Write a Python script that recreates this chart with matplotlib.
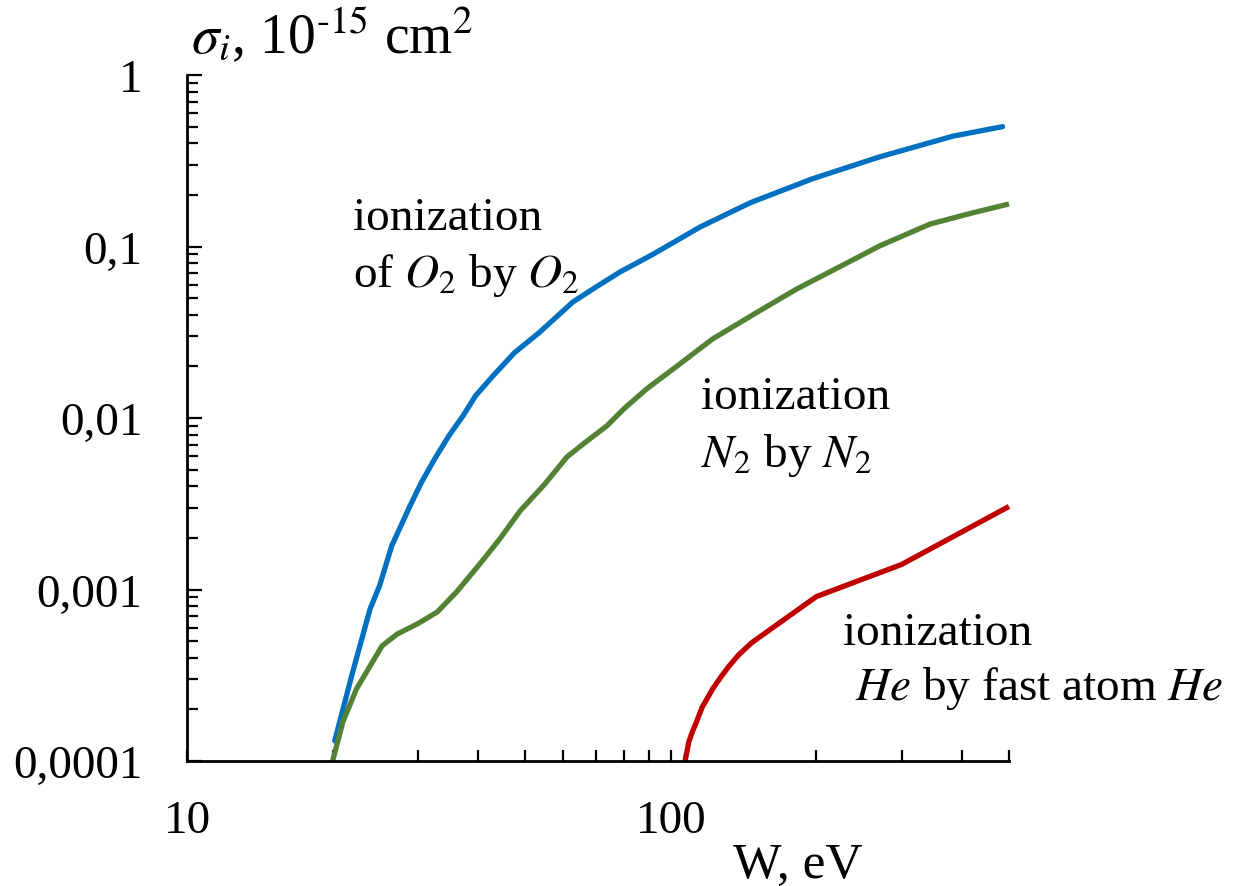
import matplotlib
matplotlib.use("Agg")
import matplotlib.pyplot as plt
from matplotlib.ticker import NullFormatter

plt.rcParams['font.family'] = ['Liberation Serif', 'DejaVu Serif']
plt.rcParams['mathtext.fontset'] = 'stix'

# O2 by O2
w_o2 = [20.2, 22.0, 23.9, 25.0, 26.5, 28.9, 30.5, 32.5, 34.8, 37.2, 39.5, 42.9, 47.5,
        53.6, 62.7, 70.0, 78.5, 91.8, 115, 146, 196, 270, 383, 485]
s_o2 = [1.31e-4, 3.3e-4, 7.7e-4, 1.05e-3, 1.8e-3, 3.07e-3, 4.2e-3, 5.77e-3, 7.9e-3,
        0.0103, 0.0135, 0.0176, 0.024, 0.0317, 0.0474, 0.058, 0.071, 0.090, 0.130,
        0.18, 0.248, 0.333, 0.44, 0.50]

# N2 by N2
w_n2 = [20.0, 21.0, 22.4, 23.9, 25.3, 27.2, 29.9, 32.9, 36.1, 40.3, 44.3, 48.8,
        54.9, 61.0, 66.5, 73.7, 80.5, 89.2, 104, 122, 150, 182, 225, 270, 343, 420, 500]
s_n2 = [1.0e-4, 1.69e-4, 2.63e-4, 3.58e-4, 4.69e-4, 5.5e-4, 6.29e-4, 7.39e-4, 9.7e-4,
        1.41e-3, 1.97e-3, 2.87e-3, 4.12e-3, 5.93e-3, 7.2e-3, 8.98e-3, 0.0115, 0.0148,
        0.0205, 0.0289, 0.041, 0.0565, 0.077, 0.1007, 0.135, 0.157, 0.177]

# He by fast He
w_he = [107, 109, 111, 113, 116, 122, 127, 132, 138, 147, 200, 300, 500]
s_he = [1.0e-4, 1.3e-4, 1.5e-4, 1.69e-4, 2.05e-4, 2.63e-4, 3.1e-4, 3.58e-4, 4.15e-4,
        4.9e-4, 9.1e-4, 1.4e-3, 3.05e-3]

yt = [1e-4, 1e-3, 1e-2, 1e-1, 1]
yt_labels = ['0,0001', '0,001', '0,01', '0,1', '1']
xt = [10, 100]
xt_labels = ['10', '100']

fig = plt.figure(figsize=(12.35, 8.87), dpi=100)
ax = fig.add_axes([187/1235, 1-762/887, (1009-187)/1235, (762-76)/887])

lw = 3.8
ax.plot(w_o2, s_o2, color='#0070C0', lw=lw, solid_capstyle='round',
        solid_joinstyle='round', clip_on=False)
ax.plot(w_n2, s_n2, color='#548235', lw=lw, solid_capstyle='butt',
        solid_joinstyle='round', clip_on=False)
ax.plot(w_he, s_he, color='#C00000', lw=lw, solid_capstyle='butt',
        solid_joinstyle='round', clip_on=False)

ax.set_xscale('log')
ax.set_yscale('log')
ax.set_xlim(10, 500)
ax.set_ylim(1e-4, 1)

ax.spines['top'].set_visible(False)
ax.spines['right'].set_visible(False)
ax.spines['left'].set_linewidth(2)
ax.spines['bottom'].set_linewidth(2)

ax.set_yticks(yt, yt_labels)
ax.set_xticks(xt, xt_labels)
ax.xaxis.set_minor_formatter(NullFormatter())
ax.yaxis.set_minor_formatter(NullFormatter())
ax.tick_params(axis='y', which='major', direction='in', length=11, width=1.6,
               pad=32, labelsize=34)
ax.tick_params(axis='y', which='minor', direction='in', length=8, width=1.6)
ax.tick_params(axis='x', which='major', direction='in', length=8, width=1.6,
               pad=28, labelsize=34)
ax.tick_params(axis='x', which='minor', direction='in', length=8, width=1.6)

fig.text(191/1235, 1-53/887, r'$\sigma_i$, 10$^{\text{-15}}$ cm$^2$', fontsize=40,
         va='baseline', ha='left')
fig.text(733/1235, 1-878/887, 'W, eV', fontsize=37, va='baseline', ha='left')

fs = 34
fig.text(353/1235, 1-230/887, 'ionization', fontsize=fs, va='baseline')
fig.text(353/1235, 1-287/887, r'of $O_2$ by $O_2$', fontsize=fs, va='baseline')
fig.text(701/1235, 1-409/887, 'ionization', fontsize=fs, va='baseline')
fig.text(701/1235, 1-467/887, r'$N_2$ by $N_2$', fontsize=fs, va='baseline')
fig.text(843/1235, 1-645/887, 'ionization', fontsize=fs, va='baseline')
fig.text(855/1235, 1-700/887, r'$He$ by fast atom $He$', fontsize=fs, va='baseline')

fig.savefig('out.png', dpi=100)
